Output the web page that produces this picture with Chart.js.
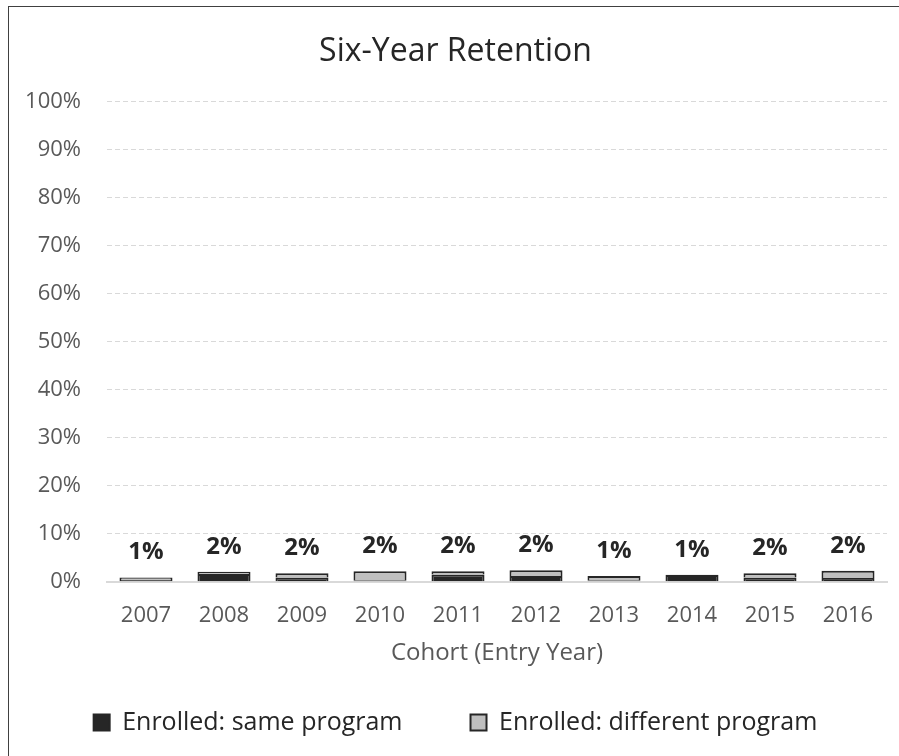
<!DOCTYPE html>
<html>
<head>
<meta charset="utf-8">
<script src="https://cdn.jsdelivr.net/npm/chart.js@4.4.1/dist/chart.umd.min.js"></script>
<style>
  html, body { margin: 0; padding: 0; background: #fff; overflow: hidden; }
  #wrap { position: relative; width: 899px; height: 756px; overflow: hidden; }
  #frame { position: absolute; left: 8px; top: 6px; right: 0; bottom: 0; border-left: 1.5px solid #404040; border-top: 1.5px solid #404040; }
  #retencao { position: absolute; left: 0; top: 0; }
</style>
</head>
<body>
<div id="wrap">
  <div id="frame"></div>
  <canvas id="retencao" width="899" height="756"></canvas>
</div>
<script>
const cohorts = ["2007", "2008", "2009", "2010", "2011", "2012", "2013", "2014", "2015", "2016"];
// % still enrolled after six years
const samePrograma = [0.4, 1.6, 0.9, 0.3, 1.5, 1.2, 0.3, 1.4, 0.9, 0.8];
const diffPrograma = [0.5, 0.5, 0.9, 1.9, 0.7, 1.2, 0.9, 0.05, 0.9, 1.5];

const fonte = "'Open Sans', 'Liberation Sans', sans-serif";

// totals above each stacked bar
const totalLabels = {
  id: "totalLabels",
  afterDatasetsDraw(chart) {
    const ctx = chart.ctx;
    const topMeta = chart.getDatasetMeta(1);
    ctx.save();
    ctx.font = "bold 24px " + fonte;
    ctx.fillStyle = "#262626";
    ctx.textAlign = "center";
    ctx.textBaseline = "alphabetic";
    cohorts.forEach((c, i) => {
      const bar = topMeta.data[i];
      const total = samePrograma[i] + diffPrograma[i];
      ctx.fillText(Math.round(total) + "%", bar.x, bar.y - 18);
    });
    ctx.restore();
  }
};

new Chart(document.getElementById("retencao"), {
  type: "bar",
  data: {
    labels: cohorts,
    datasets: [
      {
        label: "Enrolled: same program",
        data: samePrograma,
        backgroundColor: "#262626",
        borderColor: "#262626",
        borderWidth: 2,
        barPercentage: 0.68,
        categoryPercentage: 1
      },
      {
        label: "Enrolled: different program",
        data: diffPrograma,
        backgroundColor: "#bfbfbf",
        borderColor: "#262626",
        borderWidth: 2,
        barPercentage: 0.68,
        categoryPercentage: 1
      }
    ]
  },
  options: {
    responsive: false,
    animation: false,
    layout: { padding: { left: 24, right: 12, top: 27, bottom: 11 } },
    scales: {
      x: {
        stacked: true,
        grid: { display: false, drawTicks: false },
        border: { color: "#d9d9d9", width: 2 },
        ticks: { color: "#595959", font: { family: fonte, size: 22 }, padding: 21 },
        title: {
          display: true,
          text: "Cohort (Entry Year)",
          color: "#595959",
          font: { family: fonte, size: 24 },
          padding: { top: -11, bottom: -26 }
        }
      },
      y: {
        stacked: true,
        min: 0,
        max: 100,
        border: { display: false, dash: [5, 3] },
        grid: { color: "#d9d9d9", drawTicks: false },
        ticks: {
          stepSize: 10,
          color: "#595959",
          font: { family: fonte, size: 22 },
          padding: 26,
          callback: (v) => v + "%"
        },
        afterFit: (scale) => { scale.width = 83; }
      }
    },
    plugins: {
      title: {
        display: true,
        text: "Six-Year Retention",
        color: "#262626",
        font: { family: fonte, size: 32, weight: "normal" },
        padding: { top: 6, bottom: 30 }
      },
      legend: {
        position: "bottom",
        labels: {
          color: "#262626",
          font: { family: fonte, size: 25 },
          boxWidth: 16,
          boxHeight: 16,
          padding: 68
        }
      },
      tooltip: { enabled: false }
    }
  },
  plugins: [totalLabels]
});
</script>
</body>
</html>
